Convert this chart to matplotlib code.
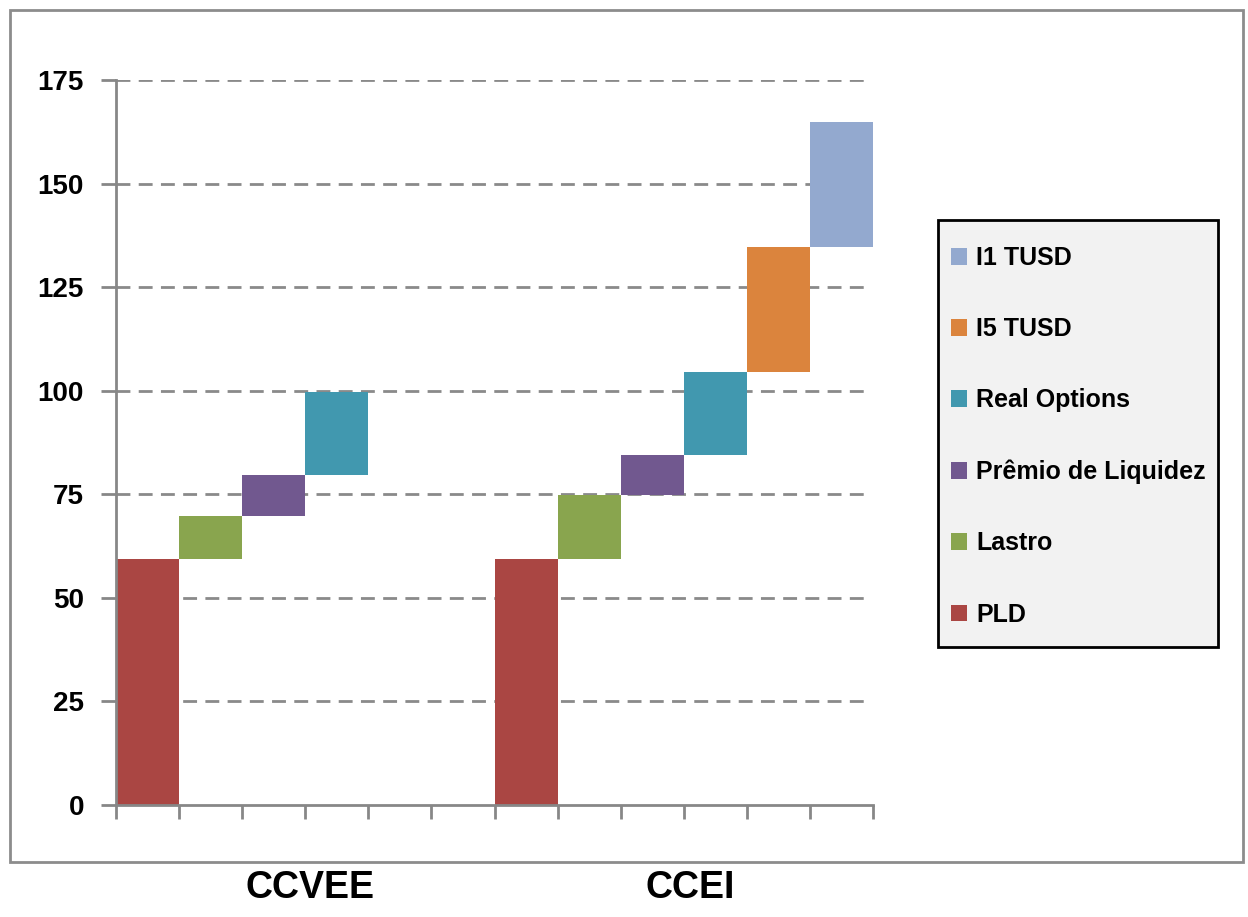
import matplotlib
matplotlib.use("Agg")
import matplotlib.pyplot as plt
from matplotlib.patches import Rectangle
import numpy as np

# componentes do preço por contrato (empilhados em cascata)
series = ["PLD", "Lastro", "Prêmio de Liquidez", "Real Options", "I5 TUSD", "I1 TUSD"]
colors = ["#AA4643", "#89A54E", "#71588F", "#4198AF", "#DB843D", "#93A9CF"]
groups = ["CCVEE", "CCEI"]
ccvee = [59.5, 10.2, 9.9, 20.1]
ccei = [59.5, 15.3, 9.8, 20.0, 30.0, 30.3]
yticks = [0, 25, 50, 75, 100, 125, 150, 175]

W, H = 1248, 917
fig = plt.figure(figsize=(W / 100, H / 100), dpi=100)
ax = fig.add_axes([116 / W, 1 - 805 / H, (873 - 116) / W, (805 - 80) / H])

slots = 6
handles = {}
for g, vals in enumerate([ccvee, ccei]):
    bottoms = np.concatenate([[0], np.cumsum(vals)[:-1]])
    for i, (v, b) in enumerate(zip(vals, bottoms)):
        bar = ax.bar(g * slots + i + 0.5, v, width=1.0, bottom=b,
                     color=colors[i], linewidth=0, zorder=3)
        handles[series[i]] = bar

ax.set_xlim(0, 2 * slots)
ax.set_ylim(0, 175)

axis_gray = "#878787"
for y in yticks[1:]:
    ax.hlines(y, 0, 11.88, colors="#8a8a8a", linewidth=2,
              linestyles=(0, (5, 3)), zorder=1)

for s in ["top", "right"]:
    ax.spines[s].set_visible(False)
for s in ["left", "bottom"]:
    ax.spines[s].set_color(axis_gray)
    ax.spines[s].set_linewidth(2)
    ax.spines[s].set_zorder(4)

font = "Liberation Sans"
ax.set_yticks(yticks)
ax.set_yticklabels([str(t) for t in yticks], fontfamily=font,
                   fontweight="bold", fontsize=20)
ax.set_xticks(np.arange(0, 2 * slots + 1))
ax.set_xticklabels([])
ax.tick_params(axis="y", length=11, width=2, color=axis_gray, pad=12)
ax.tick_params(axis="x", length=10, width=2, color=axis_gray)

for g, name in enumerate(groups):
    ax.text(g * slots + 3.08 + 0.02 * g, -0.115, name, transform=ax.get_xaxis_transform(),
            ha="center", va="center", fontsize=27, fontweight="bold",
            family=font)

# moldura externa
fig.patches.append(Rectangle((10 / W, 1 - 862 / H), 1233 / W, 852 / H,
                             transform=fig.transFigure, fill=False,
                             edgecolor="#8c8c8c", linewidth=2))
# caixa da legenda
fig.patches.append(Rectangle((938 / W, 1 - 647 / H), 280 / W, 427 / H,
                             transform=fig.transFigure, facecolor="#F2F2F2",
                             edgecolor="black", linewidth=2, zorder=0))

order = series[::-1]
leg = fig.legend([handles[s] for s in order], order,
                 loc="upper left", bbox_to_anchor=(951 / W, 1 - 246 / H),
                 frameon=False, borderpad=0, borderaxespad=0,
                 handlelength=0.65, handleheight=0.65, handletextpad=0.36,
                 labelspacing=1.89,
                 prop={"family": font, "weight": "bold", "size": 18})

fig.savefig("out.png", dpi=100)
